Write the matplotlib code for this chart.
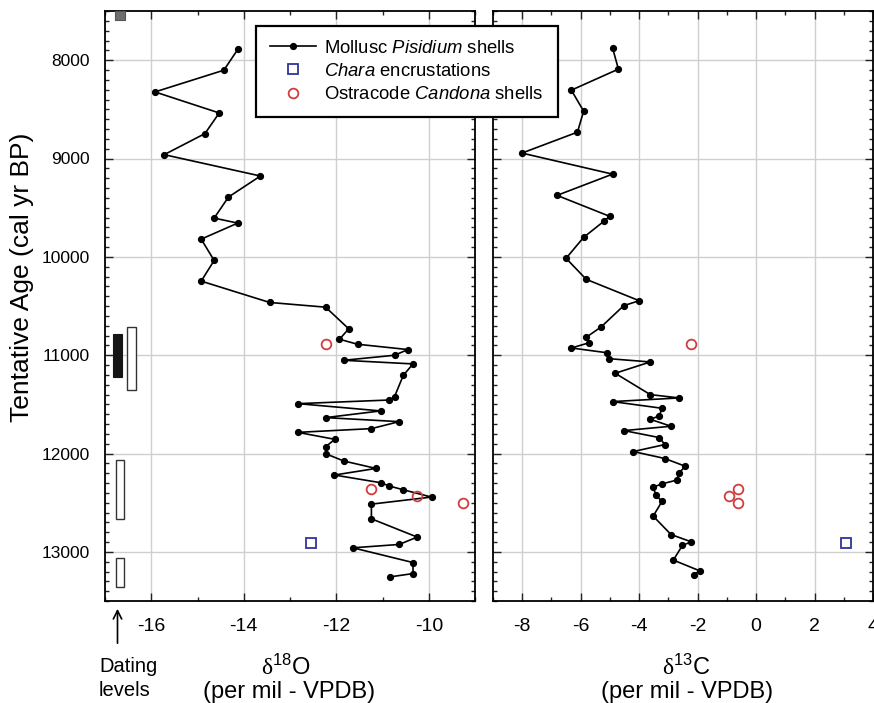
import matplotlib
matplotlib.use('Agg')
import matplotlib.pyplot as plt
from matplotlib.lines import Line2D
from matplotlib.patches import Rectangle, FancyArrowPatch
from matplotlib.ticker import MultipleLocator

plt.rcParams['font.family'] = ['Liberation Sans', 'DejaVu Sans']
plt.rcParams['axes.unicode_minus'] = False
plt.rcParams['mathtext.fontset'] = 'custom'
plt.rcParams['mathtext.rm'] = 'Liberation Serif'
plt.rcParams['mathtext.it'] = 'Liberation Sans:italic'
plt.rcParams['mathtext.sf'] = 'Liberation Sans'

# ---------------- data ----------------
# Mollusc Pisidium shells, delta18O
age_o = [7891, 8102, 8323, 8537, 8747, 8961, 9178, 9392, 9606, 9657, 9820, 10037,
         10247, 10464, 10512, 10732, 10838, 10889, 10943, 11001, 11052, 11089, 11205,
         11422, 11456, 11493, 11567, 11635, 11676, 11747, 11785, 11856, 11931, 12002,
         12076, 12152, 12219, 12297, 12331, 12369, 12443, 12515, 12664, 12850, 12925,
         12959, 13109, 13221, 13255]
d18o = [-14.13, -14.43, -15.92, -14.53, -14.84, -15.72, -13.64, -14.33, -14.64, -14.13,
        -14.92, -14.64, -14.92, -13.44, -12.23, -11.73, -11.93, -11.54, -10.45, -10.74,
        -11.84, -10.34, -10.55, -10.74, -10.85, -12.83, -11.04, -12.23, -10.64, -11.24,
        -12.83, -12.03, -12.23, -12.23, -11.84, -11.14, -12.04, -11.04, -10.85, -10.55,
        -9.94, -11.24, -11.24, -10.25, -10.64, -11.64, -10.34, -10.34, -10.84]

# Mollusc Pisidium shells, delta13C
age_c = [7875, 8091, 8305, 8518, 8732, 8945, 9159, 9375, 9588, 9639, 9802, 10015,
         10229, 10446, 10497, 10713, 10818, 10873, 10927, 10975, 11036, 11069, 11184,
         11401, 11435, 11472, 11540, 11618, 11652, 11723, 11767, 11838, 11909, 11980,
         12051, 12129, 12200, 12271, 12309, 12342, 12420, 12488, 12637, 12824, 12898,
         12935, 13084, 13193, 13231]
d13c = [-4.91, -4.71, -6.32, -5.90, -6.11, -8.01, -4.91, -6.81, -5.01, -5.21, -5.90,
        -6.50, -5.81, -4.00, -4.53, -5.30, -5.81, -5.70, -6.32, -5.11, -5.02, -3.62,
        -4.82, -3.62, -2.63, -4.91, -3.22, -3.31, -3.62, -2.91, -4.52, -3.31, -3.12,
        -4.20, -3.12, -2.43, -2.63, -2.72, -3.22, -3.52, -3.43, -3.22, -3.52, -2.91,
        -2.22, -2.52, -2.83, -1.93, -2.12]

# Chara encrustations
age_chara = [12910]
chara_d18o = [-12.54]
chara_d13c = [3.06]

# Ostracode Candona shells
age_cand = [10885, 12358, 12430, 12505]
cand_d18o = [-12.23, -11.24, -10.25, -9.25]
cand_d13c = [-2.23, -0.62, -0.93, -0.62]

# Dating levels (age ranges)
dating_black = [(10783, 11218)]
dating_open_a = [(10716, 11350)]
dating_open_b = [(12065, 12662), (13058, 13359)]
dating_gray = [(7500, 7590)]

legend_labels = ['Mollusc $\\mathit{Pisidium}$ shells',
                 '$\\mathit{Chara}$ encrustations',
                 'Ostracode $\\mathit{Candona}$ shells']

# ---------------- figure ----------------
W, H = 874, 703
fig = plt.figure(figsize=(W / 100, H / 100), dpi=100)


def rect(x0, y0, x1, y1):
    return [x0 / W, 1 - y1 / H, (x1 - x0) / W, (y1 - y0) / H]


ax1 = fig.add_axes(rect(105, 11, 475, 601))
ax2 = fig.add_axes(rect(493, 11, 873, 601))

RED = '#d23c3c'
BLUE = '#33339a'

for ax in (ax1, ax2):
    ax.set_ylim(13500, 7500)
    ax.yaxis.set_major_locator(MultipleLocator(1000))
    ax.yaxis.set_minor_locator(MultipleLocator(100))
    ax.xaxis.set_major_locator(MultipleLocator(2))
    ax.xaxis.set_minor_locator(MultipleLocator(1))
    ax.grid(True, which='major', color='#cfcfcf', lw=1.0)
    ax.set_axisbelow(True)
    ax.tick_params(which='both', direction='in', top=True, right=True, width=1.0,
                   color='#222222')
    ax.tick_params(which='major', length=6)
    ax.tick_params(which='minor', length=3.2)
    ax.tick_params(axis='x', which='major', labelsize=14, pad=12)
    ax.tick_params(axis='y', which='major', labelsize=12.5, pad=11)
    for s in ax.spines.values():
        s.set_linewidth(1.3)
        s.set_color('black')

ax1.set_xlim(-17, -9)
ax2.set_xlim(-9, 4)
ax2.tick_params(axis='y', labelleft=False)
ax1.set_xticks([-16, -14, -12, -10])

# series
ax1.plot(d18o, age_o, '-o', color='black', lw=1.2, ms=4.2, zorder=3)
ax1.plot(chara_d18o, age_chara, 's', mfc='none', mec=BLUE, mew=1.3, ms=6.5, zorder=4)
ax1.plot(cand_d18o, age_cand, 'o', mfc='none', mec=RED, mew=1.3, ms=7, zorder=4)

ax2.plot(d13c, age_c, '-o', color='black', lw=1.2, ms=4.2, zorder=3)
ax2.plot(chara_d13c, age_chara, 's', mfc='none', mec=BLUE, mew=1.3, ms=6.5, zorder=4)
ax2.plot(cand_d13c, age_cand, 'o', mfc='none', mec=RED, mew=1.3, ms=7, zorder=4)

# dating level bars
for a0, a1 in dating_black:
    ax1.add_patch(Rectangle((-16.83, a0), 0.20, a1 - a0, fc='#151515', ec='#151515',
                            lw=0.8, zorder=5))
for a0, a1 in dating_open_a:
    ax1.add_patch(Rectangle((-16.53, a0), 0.19, a1 - a0, fc='white', ec='#333333',
                            lw=1.0, zorder=5))
for a0, a1 in dating_open_b:
    ax1.add_patch(Rectangle((-16.77, a0), 0.19, a1 - a0, fc='white', ec='#333333',
                            lw=1.0, zorder=5))
for a0, a1 in dating_gray:
    ax1.add_patch(Rectangle((-16.78, a0), 0.22, a1 - a0, fc='#6e6e6e', ec='#555555',
                            lw=0.8, zorder=5, clip_on=False))

# legend
handles = [Line2D([], [], color='black', lw=1.2, marker='o', ms=4.2),
           Line2D([], [], ls='none', marker='s', mfc='none', mec=BLUE, mew=1.3, ms=6.5),
           Line2D([], [], ls='none', marker='o', mfc='none', mec=RED, mew=1.3, ms=7)]
leg = fig.legend(handles, legend_labels, loc='upper left',
                 bbox_to_anchor=(256 / W, 1 - 26 / H), bbox_transform=fig.transFigure,
                 borderaxespad=0, fontsize=13.3, frameon=True, fancybox=False,
                 edgecolor='black', framealpha=1, numpoints=1, handlelength=2.5,
                 handletextpad=0.45, labelspacing=0.33, borderpad=0.75)
leg.get_frame().set_linewidth(1.6)


def ftext(x, y, s, **kw):
    fig.text(x / W, 1 - y / H, s, **kw)


ftext(22, 277, 'Tentative Age (cal yr BP)', rotation=90, ha='center', va='center',
      fontsize=19)
ftext(286, 667, '$\\mathrm{\\delta}^{\\mathsf{18}}$O', ha='center', va='center', fontsize=17)
ftext(289, 692, '(per mil - VPDB)', ha='center', va='center', fontsize=17)
ftext(686, 667, '$\\mathrm{\\delta}^{\\mathsf{13}}$C', ha='center', va='center', fontsize=17)
ftext(687, 692, '(per mil - VPDB)', ha='center', va='center', fontsize=17)
ftext(99, 667, 'Dating', ha='left', va='center', fontsize=14.5)
ftext(99, 690, 'levels', ha='left', va='center', fontsize=14.5)

fig.add_artist(FancyArrowPatch(
    (117.5 / W, 1 - 646 / H), (117.5 / W, 1 - 606 / H), transform=fig.transFigure,
    arrowstyle='->,head_length=6,head_width=3', color='black', lw=1.2,
    mutation_scale=1))

fig.savefig('out.png', dpi=100)
